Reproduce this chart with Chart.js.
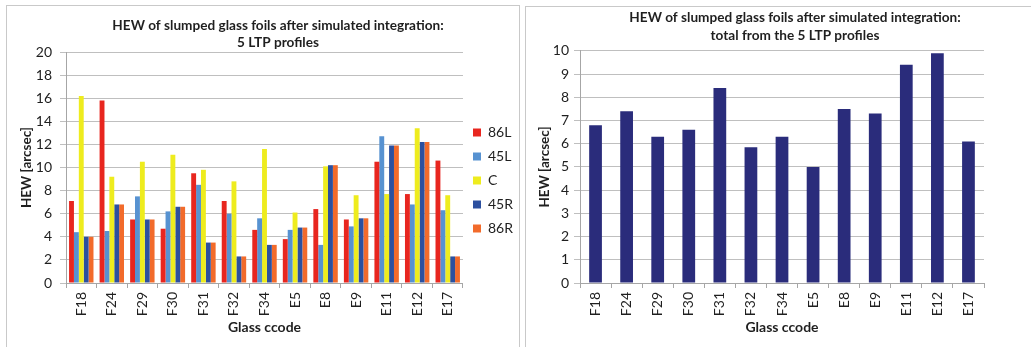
<!DOCTYPE html>
<html>
<head>
<meta charset="utf-8">
<script src="https://cdn.jsdelivr.net/npm/chart.js@4"></script>
<style>
  body { margin: 0; background: #fff; width: 1031px; height: 347px; overflow: hidden; position: relative; }
  .panel { position: absolute; border: 1px solid #c9c9c9; background: #fff; }
  canvas { position: absolute; }
</style>
</head>
<body>
<div class="panel" style="left:6px; top:5px; width:512px; height:360px;"></div>
<div class="panel" style="left:525px; top:6px; width:520px; height:360px;"></div>
<canvas id="profiles" width="540" height="341" style="left:7px; top:6px;"></canvas>
<canvas id="total" width="538" height="340" style="left:526px; top:7px;"></canvas>
<script>
var glassCodes = ["F18", "F24", "F29", "F30", "F31", "F32", "F34", "E5", "E8", "E9", "E11", "E12", "E17"];

var hew86L = [7.1, 15.8, 5.5, 4.7, 9.5, 7.1, 4.6, 3.8, 6.4, 5.5, 10.5, 7.7, 10.6];
var hew45L = [4.4, 4.5, 7.5, 6.2, 8.5, 6.0, 5.6, 4.6, 3.3, 4.9, 12.7, 6.8, 6.3];
var hewC   = [16.2, 9.2, 10.5, 11.1, 9.8, 8.8, 11.6, 6.1, 10.1, 7.6, 7.7, 13.4, 7.6];
var hew45R = [4.0, 6.8, 5.5, 6.6, 3.5, 2.3, 3.3, 4.8, 10.2, 5.6, 11.9, 12.2, 2.3];
var hew86R = [4.0, 6.8, 5.5, 6.6, 3.5, 2.3, 3.3, 4.8, 10.2, 5.6, 11.9, 12.2, 2.3];

var hewTotal = [6.8, 7.4, 6.3, 6.6, 8.4, 5.85, 6.3, 5.0, 7.5, 7.3, 9.4, 9.9, 6.1];

var gridColor = "#bfbfbf";
var axisColor = "#a6a6a6";

Chart.defaults.font.family = "Lato";
Chart.defaults.color = "#1f1f1f";
Chart.defaults.animation = false;

// nudge the title sideways so it sits over the plot + legend rather than the canvas middle
var titleShift = {
  id: "titleShift",
  afterLayout: function (chart, args, opts) {
    var t = chart.titleBlock;
    if (!t) return;
    t.left += opts.dx;
    t.right += opts.dx;
  }
};

function yAxis(max, step, width, titlePad, tickPad) {
  return {
    min: 0,
    max: max,
    ticks: { stepSize: step, padding: tickPad, font: { size: 14 } },
    grid: { color: gridColor, tickLength: 6 },
    border: { color: axisColor },
    title: {
      display: true,
      text: "HEW [arcsec]",
      font: { size: 13.5, weight: "bold" },
      padding: { top: titlePad, bottom: 0 }
    },
    afterFit: function (scale) { scale.width = width; }
  };
}

function xAxis(height) {
  return {
    ticks: { minRotation: 90, maxRotation: 90, padding: 4, font: { size: 14 } },
    grid: { drawOnChartArea: false, color: axisColor, tickLength: 5 },
    border: { color: axisColor },
    title: {
      display: true,
      text: "Glass ccode",
      font: { size: 14, weight: "bold" },
      padding: { top: 0, bottom: 11 }
    },
    afterFit: function (scale) { scale.height = height; }
  };
}

new Chart("profiles", {
  type: "bar",
  data: {
    labels: glassCodes,
    datasets: [
      { label: "86L", data: hew86L, backgroundColor: "#e8261f" },
      { label: "45L", data: hew45L, backgroundColor: "#5792d1" },
      { label: "C",   data: hewC,   backgroundColor: "#eeec1e" },
      { label: "45R", data: hew45R, backgroundColor: "#2c509f" },
      { label: "86R", data: hew86R, backgroundColor: "#f26b2b" }
    ]
  },
  plugins: [titleShift],
  options: {
    responsive: false,
    layout: { padding: { left: 0, right: 24, top: 8, bottom: 0 } },
    datasets: { bar: { categoryPercentage: 0.8, barPercentage: 1.0 } },
    plugins: {
      titleShift: { dx: 13 },
      title: {
        display: true,
        text: ["HEW of slumped glass foils after simulated integration:", "5 LTP profiles"],
        font: { size: 13.6, weight: "bold", lineHeight: 1.25 },
        padding: { top: 3.5, bottom: 0.5 }
      },
      legend: {
        position: "right",
        labels: { boxWidth: 8, boxHeight: 8, padding: 10, font: { size: 14 } }
      },
      tooltip: { enabled: false }
    },
    scales: {
      x: xAxis(64),
      y: yAxis(20, 2, 59, 12, 8)
    }
  }
});

new Chart("total", {
  type: "bar",
  data: {
    labels: glassCodes,
    datasets: [
      { label: "Total", data: hewTotal, backgroundColor: "#2a2c7b" }
    ]
  },
  plugins: [titleShift],
  options: {
    responsive: false,
    layout: { padding: { left: 0, right: 80, top: 0, bottom: 0 } },
    datasets: { bar: { categoryPercentage: 1.0, barPercentage: 0.41 } },
    plugins: {
      titleShift: { dx: 40 },
      title: {
        display: true,
        text: ["HEW of slumped glass foils after simulated integration:", "total from the 5 LTP profiles"],
        font: { size: 13.6, weight: "bold", lineHeight: 1.32 },
        padding: { top: 2, bottom: 6 }
      },
      legend: { display: false },
      tooltip: { enabled: false }
    },
    scales: {
      x: xAxis(64),
      y: yAxis(10, 1, 54, 11, 5)
    }
  }
});
</script>
</body>
</html>
